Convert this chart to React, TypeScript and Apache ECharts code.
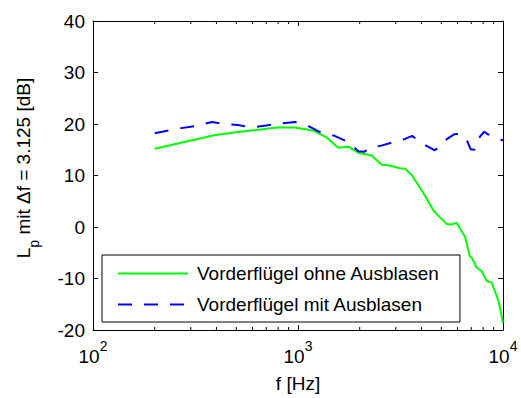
import React, { useEffect, useRef } from "react";
import * as echarts from "echarts";

// Frequencies [Hz] and levels [dB]
const ohneFreq = [200, 390, 520, 790, 970, 1190, 1380, 1570, 1760, 1970, 2290, 2560, 2760, 3150, 3330, 3590, 4090, 4580, 4750, 5310, 5620, 5940, 6530, 6900, 7050, 7450, 7880, 8330, 8810, 9490, 10000];
const ohneLp = [15.2, 17.8, 18.5, 19.3, 19.3, 18.7, 17.4, 15.4, 15.6, 14.4, 13.9, 12.1, 12.0, 11.4, 11.3, 10.1, 6.6, 3.2, 2.5, 0.6, 0.5, 0.8, -1.9, -5.7, -6.0, -7.9, -8.6, -10.5, -10.8, -14.2, -18.6];

const mitFreq = [200, 230, 270, 315, 380, 420, 510, 595, 700, 820, 970, 1125, 1300, 1510, 1760, 1970, 2100, 2290, 2550, 3000, 3330, 3600, 4090, 4650, 4900, 5210, 5770, 6200, 6670, 6950, 7250, 7730, 8100, 8450, 9150, 10000];
const mitLp = [18.2, 18.7, 19.2, 19.6, 20.4, 20.1, 19.8, 19.3, 19.7, 20.1, 20.4, 19.6, 18.3, 17.7, 16.5, 14.7, 14.6, 15.5, 15.8, 16.6, 17.1, 17.7, 16.1, 14.9, 15.6, 16.8, 18.0, 18.1, 16.8, 15.1, 15.0, 17.6, 18.5, 18.0, 17.4, 16.8];

const seriesNames = ["Vorderflügel ohne Ausblasen", "Vorderflügel mit Ausblasen"];

// Axis ranges / ticks
const xMin = 100;
const xMax = 10000;
const yMin = -20;
const yMax = 40;
const yInterval = 10;
const minorTicks = [200, 300, 400, 500, 600, 700, 800, 900, 2000, 3000, 4000, 5000, 6000, 7000, 8000, 9000];

const FONT = "'Liberation Sans', Arial, Helvetica, sans-serif";

export default function App() {
  const ref = useRef<HTMLDivElement>(null);
  useEffect(() => {
    if (!ref.current) return;
    const chart = echarts.init(ref.current, undefined, { renderer: "svg" });
    const axisLine = { show: true, onZero: false, lineStyle: { color: "#000", width: 1 } };
    const expLabel = (v: number) => `{b|10}{s|${Math.round(Math.log10(v))}}`;
    chart.setOption({
      animation: false,
      backgroundColor: "#fff",
      textStyle: { fontFamily: FONT, color: "#000" },
      grid: { left: 93, top: 21, width: 410, height: 316, containLabel: false },
      legend: {
        data: seriesNames,
        orient: "vertical",
        left: 102,
        top: 255,
        padding: [9, 20, 8, 15],
        itemWidth: 70,
        itemHeight: 19,
        itemGap: 12,
        backgroundColor: "#fff",
        borderColor: "#000",
        borderWidth: 1,
        borderRadius: 0,
        selectedMode: false,
        itemStyle: { opacity: 0 },
        textStyle: { fontSize: 19, color: "#000", fontFamily: FONT, padding: [0, 0, 0, 4] },
      },
      xAxis: [
        {
          type: "log",
          logBase: 10,
          min: xMin,
          max: xMax,
          position: "bottom",
          name: "f [Hz]",
          nameLocation: "middle",
          nameGap: 44,
          nameTextStyle: { fontSize: 19, color: "#000", fontFamily: FONT },
          axisLine,
          axisTick: { show: true, inside: true, length: 5, lineStyle: { color: "#000" } },
          splitLine: { show: false },
          axisLabel: {
            show: true,
            margin: 9,
            formatter: expLabel,
            rich: {
              b: { fontSize: 19, fontFamily: FONT, color: "#000", padding: [8, 0, 0, 0], verticalAlign: "bottom" },
              s: { fontSize: 14, fontFamily: FONT, color: "#000", verticalAlign: "top" },
            },
          },
        },
        {
          type: "log",
          logBase: 10,
          min: xMin,
          max: xMax,
          position: "top",
          axisLine,
          axisTick: { show: true, inside: true, length: 5, lineStyle: { color: "#000" } },
          axisLabel: { show: false },
          splitLine: { show: false },
        },
      ],
      yAxis: [
        {
          type: "value",
          min: yMin,
          max: yMax,
          interval: yInterval,
          position: "left",
          name: "{L|L}{s|p}{a| mit Δf = 3.125 [dB]}",
          nameLocation: "middle",
          nameRotate: 90,
          nameGap: 52,
          nameTextStyle: {
            fontSize: 19,
            fontFamily: FONT,
            color: "#000",
            rich: {
              L: { fontSize: 19, fontFamily: FONT, color: "#000", verticalAlign: "top", padding: [0, 0, 0, 15] },
              a: { fontSize: 19, fontFamily: FONT, color: "#000", verticalAlign: "top" },
              s: { fontSize: 14, fontFamily: FONT, color: "#000", verticalAlign: "bottom", padding: [13, 0, 0, 0] },
            },
          },
          axisLine,
          axisTick: { show: true, inside: true, length: 5, lineStyle: { color: "#000" } },
          axisLabel: { fontSize: 19, color: "#000", fontFamily: FONT, margin: 8 },
          splitLine: { show: false },
        },
        {
          type: "value",
          min: yMin,
          max: yMax,
          interval: yInterval,
          position: "right",
          axisLine,
          axisTick: { show: true, inside: true, length: 5, lineStyle: { color: "#000" } },
          axisLabel: { show: false },
          splitLine: { show: false },
        },
      ],
      series: [
        {
          name: seriesNames[0],
          type: "line",
          xAxisIndex: 0,
          yAxisIndex: 0,
          data: ohneFreq.map((f, i) => [f, ohneLp[i]]),
          showSymbol: false,
          symbol: "none",
          lineStyle: { color: "#00ff00", width: 2 },
          itemStyle: { color: "#00ff00" },
          z: 3,
        },
        {
          name: seriesNames[1],
          type: "line",
          xAxisIndex: 0,
          yAxisIndex: 0,
          data: mitFreq.map((f, i) => [f, mitLp[i]]),
          showSymbol: false,
          symbol: "none",
          lineStyle: { color: "#0000ff", width: 2, type: [14, 12] },
          itemStyle: { color: "#0000ff" },
          z: 3,
        },
        {
          type: "custom",
          xAxisIndex: 0,
          yAxisIndex: 0,
          silent: true,
          clip: false,
          data: minorTicks.map((f) => [f, yMin]),
          encode: { x: 0, y: 1 },
          renderItem: (_params: any, api: any) => {
            const f = api.value(0);
            const b = api.coord([f, yMin]);
            const t = api.coord([f, yMax]);
            return {
              type: "group",
              children: [
                { type: "line", shape: { x1: b[0], y1: b[1], x2: b[0], y2: b[1] - 3 }, style: { stroke: "#000", lineWidth: 1 } },
                { type: "line", shape: { x1: t[0], y1: t[1], x2: t[0], y2: t[1] + 3 }, style: { stroke: "#000", lineWidth: 1 } },
              ],
            };
          },
        },
      ],
    });
    return () => chart.dispose();
  }, []);
  return (
    <div
      ref={ref}
      style={{ position: "fixed", left: 0, top: 0, width: 521, height: 398, background: "#fff" }}
    />
  );
}
